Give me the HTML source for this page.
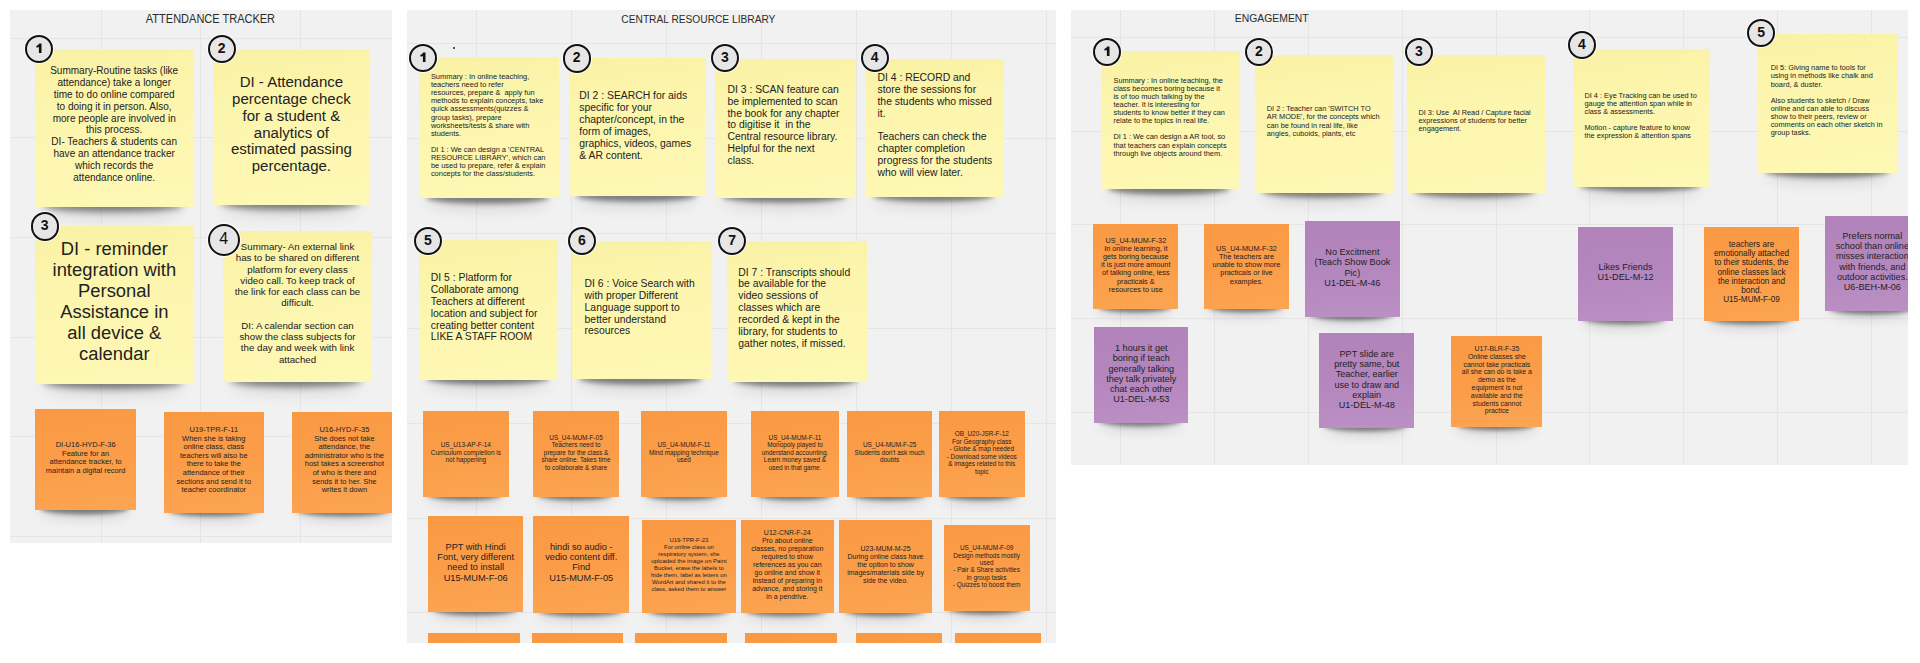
<!DOCTYPE html><html><head><meta charset="utf-8"><style>
html,body{margin:0;padding:0;width:1920px;height:663px;overflow:hidden;background:#fff;font-family:"Liberation Sans",sans-serif;}
.fr{position:absolute;background:#f1f1f1;overflow:hidden;z-index:0;}
.gl{position:absolute;background:#e5e5e5;}
.tt{position:absolute;color:#2b2b2b;white-space:nowrap;line-height:14px;text-align:center;}
.n{position:absolute;}
.sh{position:absolute;border-radius:50%;}
.tx{position:absolute;white-space:pre;color:#222;}
.ci{position:absolute;box-sizing:border-box;border:2px solid #111;border-radius:50%;background:#e6e6e6;box-shadow:0 0 0 1px rgba(255,255,255,.8);text-align:center;color:#111;font-weight:bold;}
</style></head><body>

<div class="fr" style="left:10.0px;top:10.0px;width:382.0px;height:533.0px">
<div class="gl" style="left:90.5px;top:0;width:1px;height:533.0px"></div>
<div class="gl" style="left:190.2px;top:0;width:1px;height:533.0px"></div>
<div class="gl" style="left:289.9px;top:0;width:1px;height:533.0px"></div>
<div class="gl" style="left:0;top:27.5px;width:382.0px;height:1px"></div>
<div class="gl" style="left:0;top:127.2px;width:382.0px;height:1px"></div>
<div class="gl" style="left:0;top:226.9px;width:382.0px;height:1px"></div>
<div class="gl" style="left:0;top:326.6px;width:382.0px;height:1px"></div>
<div class="gl" style="left:0;top:426.3px;width:382.0px;height:1px"></div>
<div class="gl" style="left:0;top:526.0px;width:382.0px;height:1px"></div>
<div class="tt" style="left:130.3px;width:140.9px;top:2.4px;font-size:12px;transform:scaleX(0.917)">ATTENDANCE TRACKER</div>
<div class="sh" style="left:32.7px;width:139.9px;top:183.4px;height:12px;box-shadow:0 7.0px 6.0px rgba(0,0,0,.44),0 11.0px 16.0px rgba(0,0,0,.15)"></div>
<div class="n" style="left:24.7px;top:38.7px;width:159.0px;height:158.7px;background:linear-gradient(172deg,#f9f1a4 0%,#fcf5ad 35%,#fef8b6 100%)">
<div class="tx" style="left:-20px;width:199.0px;text-align:center;top:16.8px;font-size:10.03px;line-height:11.8px">Summary-Routine tasks (like
attendance) take a longer
time to do online compared
to doing it in person. Also,
more people are involved in
this process.
DI- Teachers &amp; students can
have an attendance tracker
which records the
attendance online.</div>
</div>
<div class="sh" style="left:211.1px;width:137.5px;top:181.0px;height:12px;box-shadow:0 7.0px 6.0px rgba(0,0,0,.44),0 11.0px 16.0px rgba(0,0,0,.15)"></div>
<div class="n" style="left:203.3px;top:38.7px;width:156.2px;height:156.3px;background:linear-gradient(172deg,#f9f1a4 0%,#fcf5ad 35%,#fef8b6 100%)">
<div class="tx" style="left:-20px;width:196.2px;text-align:center;top:25.5px;font-size:15.03px;line-height:16.8px">DI - Attendance
percentage check
for a student &amp;
analytics of
estimated passing
percentage.</div>
</div>
<div class="sh" style="left:32.9px;width:139.7px;top:360.0px;height:12px;box-shadow:0 7.0px 6.0px rgba(0,0,0,.44),0 11.0px 16.0px rgba(0,0,0,.15)"></div>
<div class="n" style="left:25.0px;top:215.6px;width:158.7px;height:158.4px;background:linear-gradient(172deg,#f9f1a4 0%,#fcf5ad 35%,#fef8b6 100%)">
<div class="tx" style="left:-20px;width:198.7px;text-align:center;top:12.9px;font-size:18.39px;line-height:21px">DI - reminder
integration with
Personal
Assistance in
all device &amp;
calendar</div>
</div>
<div class="sh" style="left:220.1px;width:131.9px;top:357.6px;height:12px;box-shadow:0 7.0px 6.0px rgba(0,0,0,.44),0 11.0px 16.0px rgba(0,0,0,.15)"></div>
<div class="n" style="left:212.6px;top:221.0px;width:149.9px;height:150.6px;background:linear-gradient(172deg,#f9f1a4 0%,#fcf5ad 35%,#fef8b6 100%)">
<div class="tx" style="left:-20px;width:189.9px;text-align:center;top:10.1px;font-size:9.73px;line-height:11.25px">Summary- An external link
has to be shared on different
platform for every class
video call. To keep track of
the link for each class can be
difficult.

DI: A calendar section can
show the class subjects for
the day and week with link
attached</div>
</div>
<div class="sh" style="left:30.4px;width:88.4px;top:486.5px;height:12px;box-shadow:0 5.5px 4.7px rgba(0,0,0,.44),0 8.6px 12.5px rgba(0,0,0,.15)"></div>
<div class="n" style="left:25.4px;top:399.2px;width:100.5px;height:101.3px;background:linear-gradient(172deg,#fa9944 0%,#fb9d48 50%,#fca552 100%)">
<div class="tx" style="left:-20px;width:140.5px;text-align:center;top:31.8px;font-size:7.5px;line-height:8.55px">DI-U16-HYD-F-36
Feature for an
attendance tracker, to
maintain a digital record</div>
</div>
<div class="sh" style="left:158.6px;width:88.4px;top:488.6px;height:12px;box-shadow:0 5.5px 4.7px rgba(0,0,0,.44),0 8.6px 12.5px rgba(0,0,0,.15)"></div>
<div class="n" style="left:153.6px;top:401.8px;width:100.4px;height:100.8px;background:linear-gradient(172deg,#fa9944 0%,#fb9d48 50%,#fca552 100%)">
<div class="tx" style="left:-20px;width:140.4px;text-align:center;top:14.3px;font-size:7.5px;line-height:8.6px">U19-TPR-F-11
When she is taking
online class, class
teachers will also be
there to take the
attendance of their
sections and send it to
teacher coordinator</div>
</div>
<div class="sh" style="left:287.1px;width:92.6px;top:489.0px;height:12px;box-shadow:0 5.5px 4.7px rgba(0,0,0,.44),0 8.6px 12.5px rgba(0,0,0,.15)"></div>
<div class="n" style="left:281.8px;top:402.0px;width:105.2px;height:101.0px;background:linear-gradient(172deg,#fa9944 0%,#fb9d48 50%,#fca552 100%)">
<div class="tx" style="left:-20px;width:145.2px;text-align:center;top:14.1px;font-size:7.5px;line-height:8.6px">U16-HYD-F-35
She does not take
attendance, the
administrator who is the
host takes a screenshot
of who is there and
sends it to her. She
writes it down</div>
</div>
<div class="ci" style="left:14.7px;top:25.2px;width:28.3px;height:28.3px"><svg width="28" height="28" style="position:absolute;left:-2px;top:-2px" viewBox="0 0 28 28"><path transform="translate(11.40,8.40)" d="M2.6,0 H5.1 V9.5 H2.5 V3.5 C1.8,3.9 0.9,4.1 0,4.1 V2.3 C1.3,2.1 2.2,1.3 2.6,0 Z" fill="#111"/></svg></div>
<div class="ci" style="left:197.5px;top:24.6px;width:28.3px;height:28.3px;font-size:14px;line-height:22.5px;font-weight:bold">2</div>
<div class="ci" style="left:20.5px;top:202.3px;width:28.3px;height:28.3px;font-size:14px;line-height:22.5px;font-weight:bold">3</div>
<div class="ci" style="left:197.6px;top:213.6px;width:32.4px;height:32.4px;font-size:16px;line-height:26.6px;font-weight:normal">4</div>
</div>
<div class="fr" style="left:407.0px;top:10.0px;width:648.5px;height:633.0px">
<div class="gl" style="left:69.3px;top:0;width:1px;height:633.0px"></div>
<div class="gl" style="left:164.2px;top:0;width:1px;height:633.0px"></div>
<div class="gl" style="left:259.2px;top:0;width:1px;height:633.0px"></div>
<div class="gl" style="left:354.2px;top:0;width:1px;height:633.0px"></div>
<div class="gl" style="left:449.1px;top:0;width:1px;height:633.0px"></div>
<div class="gl" style="left:544.1px;top:0;width:1px;height:633.0px"></div>
<div class="gl" style="left:639.0px;top:0;width:1px;height:633.0px"></div>
<div class="gl" style="left:0;top:32.7px;width:648.5px;height:1px"></div>
<div class="gl" style="left:0;top:127.7px;width:648.5px;height:1px"></div>
<div class="gl" style="left:0;top:222.6px;width:648.5px;height:1px"></div>
<div class="gl" style="left:0;top:317.6px;width:648.5px;height:1px"></div>
<div class="gl" style="left:0;top:412.5px;width:648.5px;height:1px"></div>
<div class="gl" style="left:0;top:507.5px;width:648.5px;height:1px"></div>
<div class="gl" style="left:0;top:602.4px;width:648.5px;height:1px"></div>
<div class="tt" style="left:202.5px;width:176.8px;top:2.2px;font-size:11.7px;transform:scaleX(0.872)">CENTRAL RESOURCE LIBRARY</div>
<div class="sh" style="left:18.9px;width:123.0px;top:174.5px;height:12px;box-shadow:0 6.7px 5.8px rgba(0,0,0,.44),0 10.6px 15.4px rgba(0,0,0,.15)"></div>
<div class="n" style="left:11.9px;top:47.3px;width:139.8px;height:141.2px;background:linear-gradient(172deg,#f9f1a4 0%,#fcf5ad 35%,#fef8b6 100%)">
<div class="tx" style="left:12.0px;top:15.8px;font-size:7.44px;line-height:8.1px">Summary : In online teaching,
teachers need to refer
resources, prepare &amp;  apply fun
methods to explain concepts, take
quick assessments(quizzes &amp;
group tasks), prepare
worksheets/tests &amp; share with
students.

DI 1 : We can design a &#x27;CENTRAL
RESOURCE LIBRARY&#x27;, which can
be used to prepare, refer &amp; explain
concepts for the class/students.</div>
</div>
<div class="sh" style="left:168.6px;width:121.3px;top:172.5px;height:12px;box-shadow:0 6.7px 5.7px rgba(0,0,0,.44),0 10.5px 15.2px rgba(0,0,0,.15)"></div>
<div class="n" style="left:161.7px;top:48.3px;width:137.8px;height:138.2px;background:linear-gradient(172deg,#f9f1a4 0%,#fcf5ad 35%,#fef8b6 100%)">
<div class="tx" style="left:10.6px;top:31.7px;font-size:10.38px;line-height:11.95px">DI 2 : SEARCH for aids
specific for your
chapter/concept, in the
form of images,
graphics, videos, games
&amp; AR content.</div>
</div>
<div class="sh" style="left:314.9px;width:124.1px;top:174.0px;height:12px;box-shadow:0 6.8px 5.8px rgba(0,0,0,.44),0 10.7px 15.6px rgba(0,0,0,.15)"></div>
<div class="n" style="left:307.9px;top:49.0px;width:141.0px;height:139.0px;background:linear-gradient(172deg,#f9f1a4 0%,#fcf5ad 35%,#fef8b6 100%)">
<div class="tx" style="left:12.6px;top:24.6px;font-size:10.38px;line-height:11.95px">DI 3 : SCAN feature can
be implemented to scan
the book for any chapter
to digitise it  in the
Central resource library.
Helpful for the next
class.</div>
</div>
<div class="sh" style="left:465.8px;width:121.7px;top:172.7px;height:12px;box-shadow:0 6.7px 5.7px rgba(0,0,0,.44),0 10.5px 15.3px rgba(0,0,0,.15)"></div>
<div class="n" style="left:458.9px;top:49.0px;width:138.3px;height:137.7px;background:linear-gradient(172deg,#f9f1a4 0%,#fcf5ad 35%,#fef8b6 100%)">
<div class="tx" style="left:11.6px;top:12.7px;font-size:10.38px;line-height:11.95px">DI 4 : RECORD and
store the sessions for
the students who missed
it.

Teachers can check the
chapter completion
progress for the students
who will view later.</div>
</div>
<div class="sh" style="left:18.7px;width:122.9px;top:356.4px;height:12px;box-shadow:0 6.7px 5.8px rgba(0,0,0,.44),0 10.6px 15.4px rgba(0,0,0,.15)"></div>
<div class="n" style="left:11.7px;top:230.1px;width:139.7px;height:140.3px;background:linear-gradient(172deg,#f9f1a4 0%,#fcf5ad 35%,#fef8b6 100%)">
<div class="tx" style="left:12.1px;top:32.2px;font-size:10.38px;line-height:11.83px">DI 5 : Platform for
Collaborate among
Teachers at different
location and subject for
creating better content
LIKE A STAFF ROOM</div>
</div>
<div class="sh" style="left:172.3px;width:122.6px;top:355.5px;height:12px;box-shadow:0 6.7px 5.8px rgba(0,0,0,.44),0 10.6px 15.4px rgba(0,0,0,.15)"></div>
<div class="n" style="left:165.3px;top:231.3px;width:139.3px;height:138.2px;background:linear-gradient(172deg,#f9f1a4 0%,#fcf5ad 35%,#fef8b6 100%)">
<div class="tx" style="left:12.3px;top:36.8px;font-size:10.38px;line-height:11.83px">DI 6 : Voice Search with
with proper Different
Language support to
better understand
resources</div>
</div>
<div class="sh" style="left:327.0px;width:122.8px;top:357.7px;height:12px;box-shadow:0 6.7px 5.8px rgba(0,0,0,.44),0 10.6px 15.4px rgba(0,0,0,.15)"></div>
<div class="n" style="left:320.0px;top:231.3px;width:139.6px;height:140.4px;background:linear-gradient(172deg,#f9f1a4 0%,#fcf5ad 35%,#fef8b6 100%)">
<div class="tx" style="left:11.3px;top:25.3px;font-size:10.38px;line-height:11.86px">DI 7 : Transcripts should
be available for the
video sessions of
classes which are
recorded &amp; kept in the
library, for students to
gather notes, if missed.</div>
</div>
<div class="sh" style="left:20.2px;width:75.6px;top:472.9px;height:12px;box-shadow:0 5.5px 4.7px rgba(0,0,0,.44),0 8.6px 12.5px rgba(0,0,0,.15)"></div>
<div class="n" style="left:15.9px;top:400.6px;width:85.9px;height:86.3px;background:linear-gradient(172deg,#fa9944 0%,#fb9d48 50%,#fca552 100%)">
<div class="tx" style="left:-20px;width:125.9px;text-align:center;top:30.7px;font-size:6.42px;line-height:7.45px">US_U13-AP-F-14
Curriculum completion is
not happening</div>
</div>
<div class="sh" style="left:130.2px;width:75.9px;top:472.9px;height:12px;box-shadow:0 5.5px 4.7px rgba(0,0,0,.44),0 8.6px 12.5px rgba(0,0,0,.15)"></div>
<div class="n" style="left:125.9px;top:400.6px;width:86.3px;height:86.3px;background:linear-gradient(172deg,#fa9944 0%,#fb9d48 50%,#fca552 100%)">
<div class="tx" style="left:-20px;width:126.3px;text-align:center;top:23.4px;font-size:6.42px;line-height:7.45px">US_U4-MUM-F-05
Teachers need to
prepare for the class &amp;
share online. Takes time
to collaborate &amp; share</div>
</div>
<div class="sh" style="left:238.1px;width:75.9px;top:473.0px;height:12px;box-shadow:0 5.5px 4.7px rgba(0,0,0,.44),0 8.6px 12.5px rgba(0,0,0,.15)"></div>
<div class="n" style="left:233.8px;top:400.6px;width:86.2px;height:86.4px;background:linear-gradient(172deg,#fa9944 0%,#fb9d48 50%,#fca552 100%)">
<div class="tx" style="left:-20px;width:126.2px;text-align:center;top:30.7px;font-size:6.42px;line-height:7.45px">US_U4-MUM-F-11
Mind mapping technique
used</div>
</div>
<div class="sh" style="left:348.6px;width:77.1px;top:472.9px;height:12px;box-shadow:0 5.5px 4.7px rgba(0,0,0,.44),0 8.6px 12.5px rgba(0,0,0,.15)"></div>
<div class="n" style="left:344.2px;top:400.6px;width:87.6px;height:86.3px;background:linear-gradient(172deg,#fa9944 0%,#fb9d48 50%,#fca552 100%)">
<div class="tx" style="left:-20px;width:127.6px;text-align:center;top:23.4px;font-size:6.42px;line-height:7.45px">US_U4-MUM-F-11
Monopoly played to
understand accounting.
Learn money saved &amp;
used in that game.</div>
</div>
<div class="sh" style="left:444.0px;width:75.5px;top:472.9px;height:12px;box-shadow:0 5.5px 4.7px rgba(0,0,0,.44),0 8.6px 12.5px rgba(0,0,0,.15)"></div>
<div class="n" style="left:439.7px;top:400.6px;width:85.8px;height:86.3px;background:linear-gradient(172deg,#fa9944 0%,#fb9d48 50%,#fca552 100%)">
<div class="tx" style="left:-20px;width:125.8px;text-align:center;top:30.7px;font-size:6.42px;line-height:7.45px">US_U4-MUM-F-25
Students don&#x27;t ask much
doubts</div>
</div>
<div class="sh" style="left:536.1px;width:75.6px;top:473.0px;height:12px;box-shadow:0 5.5px 4.7px rgba(0,0,0,.44),0 8.6px 12.5px rgba(0,0,0,.15)"></div>
<div class="n" style="left:531.8px;top:400.6px;width:85.9px;height:86.4px;background:linear-gradient(172deg,#fa9944 0%,#fb9d48 50%,#fca552 100%)">
<div class="tx" style="left:-20px;width:125.9px;text-align:center;top:19.9px;font-size:6.42px;line-height:7.45px">OB_U20-JSR-F-12
For Geography class
- Globe &amp; map needed
- Download some videos
&amp; images related to this
topic</div>
</div>
<div class="sh" style="left:25.7px;width:84.0px;top:588.2px;height:12px;box-shadow:0 5.5px 4.7px rgba(0,0,0,.44),0 8.6px 12.5px rgba(0,0,0,.15)"></div>
<div class="n" style="left:20.9px;top:505.7px;width:95.5px;height:96.5px;background:linear-gradient(172deg,#fa9944 0%,#fb9d48 50%,#fca552 100%)">
<div class="tx" style="left:-20px;width:135.5px;text-align:center;top:26.6px;font-size:9.22px;line-height:10.1px">PPT with Hindi
Font, very different
need to install
U15-MUM-F-06</div>
</div>
<div class="sh" style="left:130.8px;width:84.8px;top:588.7px;height:12px;box-shadow:0 5.5px 4.7px rgba(0,0,0,.44),0 8.6px 12.5px rgba(0,0,0,.15)"></div>
<div class="n" style="left:126.0px;top:505.7px;width:96.4px;height:97.0px;background:linear-gradient(172deg,#fa9944 0%,#fb9d48 50%,#fca552 100%)">
<div class="tx" style="left:-20px;width:136.4px;text-align:center;top:26.6px;font-size:9.22px;line-height:10.1px">hindi so audio -
vedio content diff.
Find
U15-MUM-F-05</div>
</div>
<div class="sh" style="left:239.5px;width:82.9px;top:588.7px;height:12px;box-shadow:0 5.5px 4.7px rgba(0,0,0,.44),0 8.6px 12.5px rgba(0,0,0,.15)"></div>
<div class="n" style="left:234.8px;top:510.0px;width:94.2px;height:92.7px;background:linear-gradient(172deg,#fa9944 0%,#fb9d48 50%,#fca552 100%)">
<div class="tx" style="left:-20px;width:134.2px;text-align:center;top:17.2px;font-size:5.93px;line-height:6.94px">U19-TPR-F-23
For online class on
respiratory system, she
uploaded the image on Paint
Bucket, erase the labels to
hide them, label as letters on
WordArt and shared it to the
class, asked them to answer</div>
</div>
<div class="sh" style="left:338.4px;width:82.0px;top:588.7px;height:12px;box-shadow:0 5.5px 4.7px rgba(0,0,0,.44),0 8.6px 12.5px rgba(0,0,0,.15)"></div>
<div class="n" style="left:333.7px;top:510.0px;width:93.2px;height:92.7px;background:linear-gradient(172deg,#fa9944 0%,#fb9d48 50%,#fca552 100%)">
<div class="tx" style="left:-20px;width:133.2px;text-align:center;top:9.1px;font-size:6.97px;line-height:7.96px">U12-CNR-F-24
Pro about online
classes, no preparation
required to show
references as you can
go online and show it
instead of preparing in
advance, and storing it
in a pendrive.</div>
</div>
<div class="sh" style="left:436.7px;width:81.8px;top:588.7px;height:12px;box-shadow:0 5.5px 4.7px rgba(0,0,0,.44),0 8.6px 12.5px rgba(0,0,0,.15)"></div>
<div class="n" style="left:432.1px;top:510.0px;width:92.9px;height:92.7px;background:linear-gradient(172deg,#fa9944 0%,#fb9d48 50%,#fca552 100%)">
<div class="tx" style="left:-20px;width:132.9px;text-align:center;top:25.4px;font-size:6.97px;line-height:7.9px">U23-MUM-M-25
During online class have
the option to show
images/materials side by
side the video.</div>
</div>
<div class="sh" style="left:540.8px;width:75.9px;top:587.0px;height:12px;box-shadow:0 5.5px 4.7px rgba(0,0,0,.44),0 8.6px 12.5px rgba(0,0,0,.15)"></div>
<div class="n" style="left:536.5px;top:514.5px;width:86.2px;height:86.5px;background:linear-gradient(172deg,#fa9944 0%,#fb9d48 50%,#fca552 100%)">
<div class="tx" style="left:-20px;width:126.2px;text-align:center;top:19.7px;font-size:6.42px;line-height:7.4px">US_U4-MUM-F-09
Design methods mostly
used
- Pair &amp; Share activities
in group tasks
- Quizzes to boost them</div>
</div>
<div class="n" style="left:20.9px;top:623.0px;width:91.9px;height:92.0px;background:linear-gradient(172deg,#fa9944 0%,#fb9d48 50%,#fca552 100%)">
</div>
<div class="n" style="left:125.2px;top:623.0px;width:91.3px;height:92.0px;background:linear-gradient(172deg,#fa9944 0%,#fb9d48 50%,#fca552 100%)">
</div>
<div class="n" style="left:228.2px;top:623.0px;width:91.7px;height:92.0px;background:linear-gradient(172deg,#fa9944 0%,#fb9d48 50%,#fca552 100%)">
</div>
<div class="n" style="left:338.0px;top:622.5px;width:91.7px;height:92.0px;background:linear-gradient(172deg,#fa9944 0%,#fb9d48 50%,#fca552 100%)">
</div>
<div class="n" style="left:448.8px;top:622.5px;width:85.8px;height:92.0px;background:linear-gradient(172deg,#fa9944 0%,#fb9d48 50%,#fca552 100%)">
</div>
<div class="n" style="left:548.2px;top:623.0px;width:86.0px;height:92.0px;background:linear-gradient(172deg,#fa9944 0%,#fb9d48 50%,#fca552 100%)">
</div>
<div class="ci" style="left:1.5px;top:33.9px;width:28.3px;height:28.3px"><svg width="28" height="28" style="position:absolute;left:-2px;top:-2px" viewBox="0 0 28 28"><path transform="translate(11.40,8.40)" d="M2.6,0 H5.1 V9.5 H2.5 V3.5 C1.8,3.9 0.9,4.1 0,4.1 V2.3 C1.3,2.1 2.2,1.3 2.6,0 Z" fill="#111"/></svg></div>
<div class="ci" style="left:155.5px;top:34.4px;width:28.3px;height:28.3px;font-size:14px;line-height:22.5px;font-weight:bold">2</div>
<div class="ci" style="left:303.8px;top:33.9px;width:28.3px;height:28.3px;font-size:14px;line-height:22.5px;font-weight:bold">3</div>
<div class="ci" style="left:453.6px;top:33.6px;width:28.3px;height:28.3px;font-size:14px;line-height:22.5px;font-weight:bold">4</div>
<div class="ci" style="left:6.7px;top:216.8px;width:28.3px;height:28.3px;font-size:14px;line-height:22.5px;font-weight:bold">5</div>
<div class="ci" style="left:160.7px;top:216.8px;width:28.3px;height:28.3px;font-size:14px;line-height:22.5px;font-weight:bold">6</div>
<div class="ci" style="left:310.9px;top:216.8px;width:28.3px;height:28.3px;font-size:14px;line-height:22.5px;font-weight:bold">7</div>
<div style="position:absolute;left:45.8px;top:37.0px;width:2px;height:2px;border-radius:1px;background:#222"></div>
</div>
<div class="fr" style="left:1071.4px;top:10.0px;width:836.9px;height:454.6px">
<div class="gl" style="left:49.1px;top:0;width:1px;height:454.6px"></div>
<div class="gl" style="left:142.9px;top:0;width:1px;height:454.6px"></div>
<div class="gl" style="left:236.7px;top:0;width:1px;height:454.6px"></div>
<div class="gl" style="left:330.4px;top:0;width:1px;height:454.6px"></div>
<div class="gl" style="left:424.2px;top:0;width:1px;height:454.6px"></div>
<div class="gl" style="left:518.0px;top:0;width:1px;height:454.6px"></div>
<div class="gl" style="left:611.8px;top:0;width:1px;height:454.6px"></div>
<div class="gl" style="left:705.6px;top:0;width:1px;height:454.6px"></div>
<div class="gl" style="left:799.3px;top:0;width:1px;height:454.6px"></div>
<div class="gl" style="left:0;top:26.8px;width:836.9px;height:1px"></div>
<div class="gl" style="left:0;top:120.6px;width:836.9px;height:1px"></div>
<div class="gl" style="left:0;top:214.4px;width:836.9px;height:1px"></div>
<div class="gl" style="left:0;top:308.1px;width:836.9px;height:1px"></div>
<div class="gl" style="left:0;top:401.9px;width:836.9px;height:1px"></div>
<div class="tt" style="left:161.3px;width:77.5px;top:1.0px;font-size:10.9px;transform:scaleX(0.953)">ENGAGEMENT</div>
<div class="sh" style="left:36.9px;width:121.9px;top:165.5px;height:12px;box-shadow:0 6.7px 5.7px rgba(0,0,0,.44),0 10.5px 15.3px rgba(0,0,0,.15)"></div>
<div class="n" style="left:30.0px;top:40.7px;width:138.5px;height:138.8px;background:linear-gradient(172deg,#f9f1a4 0%,#fcf5ad 35%,#fef8b6 100%)">
<div class="tx" style="left:12.1px;top:26.1px;font-size:7.35px;line-height:8.1px">Summary : In online teaching, the
class becomes boring because it
is of too much talking by the
teacher. It is interesting for
students to know better if they can
relate to the topics in real life.

DI 1 : We can design a AR tool, so
that teachers can explain concepts
through live objects around them.</div>
</div>
<div class="sh" style="left:190.6px;width:121.4px;top:168.6px;height:12px;box-shadow:0 6.7px 5.7px rgba(0,0,0,.44),0 10.5px 15.2px rgba(0,0,0,.15)"></div>
<div class="n" style="left:183.7px;top:44.8px;width:137.9px;height:137.8px;background:linear-gradient(172deg,#f9f1a4 0%,#fcf5ad 35%,#fef8b6 100%)">
<div class="tx" style="left:11.7px;top:50.6px;font-size:7.35px;line-height:8.1px">DI 2 : Teacher can &#x27;SWITCH TO
AR MODE&#x27;, for the concepts which
can be found in real life, like
angles, cuboids, plants, etc</div>
</div>
<div class="sh" style="left:342.3px;width:121.8px;top:168.6px;height:12px;box-shadow:0 6.7px 5.7px rgba(0,0,0,.44),0 10.5px 15.3px rgba(0,0,0,.15)"></div>
<div class="n" style="left:335.4px;top:44.8px;width:138.4px;height:137.8px;background:linear-gradient(172deg,#f9f1a4 0%,#fcf5ad 35%,#fef8b6 100%)">
<div class="tx" style="left:11.7px;top:54.3px;font-size:7.35px;line-height:8.1px">DI 3: Use  AI Read / Capture facial
expressions of students for better
engagement.</div>
</div>
<div class="sh" style="left:508.5px;width:120.5px;top:162.9px;height:12px;box-shadow:0 6.6px 5.7px rgba(0,0,0,.44),0 10.4px 15.1px rgba(0,0,0,.15)"></div>
<div class="n" style="left:501.7px;top:39.1px;width:136.9px;height:137.8px;background:linear-gradient(172deg,#f9f1a4 0%,#fcf5ad 35%,#fef8b6 100%)">
<div class="tx" style="left:11.4px;top:42.6px;font-size:7.35px;line-height:8.1px">DI 4 : Eye Tracking can be used to
gauge the attention span while in
class &amp; assessments.

Motion - capture feature to know
the expression &amp; attention spans</div>
</div>
<div class="sh" style="left:694.0px;width:123.2px;top:148.6px;height:12px;box-shadow:0 6.8px 5.8px rgba(0,0,0,.44),0 10.6px 15.4px rgba(0,0,0,.15)"></div>
<div class="n" style="left:687.0px;top:24.2px;width:140.0px;height:138.4px;background:linear-gradient(172deg,#f9f1a4 0%,#fcf5ad 35%,#fef8b6 100%)">
<div class="tx" style="left:12.3px;top:30.2px;font-size:7.35px;line-height:8.1px">DI 5: Giving name to tools for
using in methods like chalk and
board, &amp; duster.

Also students to sketch / Draw
online and can able to discuss
show to their peers, review or
comments on each other sketch in
group tasks.</div>
</div>
<div class="sh" style="left:26.3px;width:74.4px;top:285.1px;height:12px;box-shadow:0 5.5px 4.7px rgba(0,0,0,.44),0 8.6px 12.5px rgba(0,0,0,.15)"></div>
<div class="n" style="left:22.1px;top:213.6px;width:84.6px;height:85.5px;background:linear-gradient(172deg,#fa9944 0%,#fb9d48 50%,#fca552 100%)">
<div class="tx" style="left:-20px;width:124.6px;text-align:center;top:13.3px;font-size:7.3px;line-height:8.14px">US_U4-MUM-F-32
In online learning, it
gets boring because
it is just more amount
of talking online, less
practicals &amp;
resources to use</div>
</div>
<div class="sh" style="left:137.0px;width:74.4px;top:285.1px;height:12px;box-shadow:0 5.5px 4.7px rgba(0,0,0,.44),0 8.6px 12.5px rgba(0,0,0,.15)"></div>
<div class="n" style="left:132.8px;top:213.6px;width:84.6px;height:85.5px;background:linear-gradient(172deg,#fa9944 0%,#fb9d48 50%,#fca552 100%)">
<div class="tx" style="left:-20px;width:124.6px;text-align:center;top:21.4px;font-size:7.3px;line-height:8.14px">US_U4-MUM-F-32
The teachers are
unable to show more
practicals or live
examples.</div>
</div>
<div class="sh" style="left:238.4px;width:83.2px;top:292.8px;height:12px;box-shadow:0 5.5px 4.7px rgba(0,0,0,.44),0 8.6px 12.5px rgba(0,0,0,.15)"></div>
<div class="n" style="left:233.7px;top:211.2px;width:94.6px;height:95.6px;background:linear-gradient(175deg,#b183ba 0%,#b386bd 45%,#bb90c4 100%)">
<div class="tx" style="left:-20px;width:134.6px;text-align:center;top:26.1px;font-size:9.1px;line-height:10.2px">No Excitment
(Teach Show Book
Pic)
U1-DEL-M-46</div>
</div>
<div class="sh" style="left:511.5px;width:83.2px;top:297.3px;height:12px;box-shadow:0 5.5px 4.7px rgba(0,0,0,.44),0 8.6px 12.5px rgba(0,0,0,.15)"></div>
<div class="n" style="left:506.8px;top:216.5px;width:94.6px;height:94.8px;background:linear-gradient(175deg,#b183ba 0%,#b386bd 45%,#bb90c4 100%)">
<div class="tx" style="left:-20px;width:134.6px;text-align:center;top:35.5px;font-size:9.1px;line-height:10.2px">Likes Friends
U1-DEL-M-12</div>
</div>
<div class="sh" style="left:637.1px;width:84.2px;top:297.3px;height:12px;box-shadow:0 5.5px 4.7px rgba(0,0,0,.44),0 8.6px 12.5px rgba(0,0,0,.15)"></div>
<div class="n" style="left:632.3px;top:216.9px;width:95.7px;height:94.4px;background:linear-gradient(172deg,#fa9944 0%,#fb9d48 50%,#fca552 100%)">
<div class="tx" style="left:-20px;width:135.7px;text-align:center;top:13.2px;font-size:8.18px;line-height:9.15px">teachers are
emotionally attached
to their students, the
online classes lack
the interaction and
bond.
U15-MUM-F-09</div>
</div>
<div class="sh" style="left:758.1px;width:83.9px;top:286.7px;height:12px;box-shadow:0 5.5px 4.7px rgba(0,0,0,.44),0 8.6px 12.5px rgba(0,0,0,.15)"></div>
<div class="n" style="left:753.3px;top:205.5px;width:95.3px;height:95.2px;background:linear-gradient(175deg,#b183ba 0%,#b386bd 45%,#bb90c4 100%)">
<div class="tx" style="left:-20px;width:135.3px;text-align:center;top:15.5px;font-size:9.1px;line-height:10.2px">Prefers normal
school than online
misses interaction
with friends, and
outdoor activities.
U6-BEH-M-06</div>
</div>
<div class="sh" style="left:27.6px;width:82.7px;top:399.0px;height:12px;box-shadow:0 5.5px 4.7px rgba(0,0,0,.44),0 8.6px 12.5px rgba(0,0,0,.15)"></div>
<div class="n" style="left:22.9px;top:317.4px;width:94.0px;height:95.6px;background:linear-gradient(175deg,#b183ba 0%,#b386bd 45%,#bb90c4 100%)">
<div class="tx" style="left:-20px;width:134.0px;text-align:center;top:15.9px;font-size:9.1px;line-height:10.2px">1 hours it get
boring if teach
generally talking
they talk privately
chat each other
U1-DEL-M-53</div>
</div>
<div class="sh" style="left:252.8px;width:83.2px;top:404.0px;height:12px;box-shadow:0 5.5px 4.7px rgba(0,0,0,.44),0 8.6px 12.5px rgba(0,0,0,.15)"></div>
<div class="n" style="left:248.1px;top:323.1px;width:94.5px;height:94.9px;background:linear-gradient(175deg,#b183ba 0%,#b386bd 45%,#bb90c4 100%)">
<div class="tx" style="left:-20px;width:134.5px;text-align:center;top:15.9px;font-size:9.1px;line-height:10.2px">PPT slide are
pretty same, but
Teacher, earlier
use to draw and
explain
U1-DEL-M-48</div>
</div>
<div class="sh" style="left:384.6px;width:79.9px;top:402.8px;height:12px;box-shadow:0 5.5px 4.7px rgba(0,0,0,.44),0 8.6px 12.5px rgba(0,0,0,.15)"></div>
<div class="n" style="left:380.1px;top:325.6px;width:90.8px;height:91.2px;background:linear-gradient(172deg,#fa9944 0%,#fb9d48 50%,#fca552 100%)">
<div class="tx" style="left:-20px;width:130.8px;text-align:center;top:9.4px;font-size:6.9px;line-height:7.8px">U17-BLR-F-35
Online classes she
cannot take practicals
all she can do is take a
demo as the
equipment is not
available and the
students cannot
practice</div>
</div>
<div class="ci" style="left:21.5px;top:27.9px;width:28.3px;height:28.3px"><svg width="28" height="28" style="position:absolute;left:-2px;top:-2px" viewBox="0 0 28 28"><path transform="translate(11.40,8.40)" d="M2.6,0 H5.1 V9.5 H2.5 V3.5 C1.8,3.9 0.9,4.1 0,4.1 V2.3 C1.3,2.1 2.2,1.3 2.6,0 Z" fill="#111"/></svg></div>
<div class="ci" style="left:173.4px;top:27.5px;width:28.3px;height:28.3px;font-size:14px;line-height:22.5px;font-weight:bold">2</div>
<div class="ci" style="left:333.4px;top:27.5px;width:28.3px;height:28.3px;font-size:14px;line-height:22.5px;font-weight:bold">3</div>
<div class="ci" style="left:496.4px;top:20.9px;width:28.3px;height:28.3px;font-size:14px;line-height:22.5px;font-weight:bold">4</div>
<div class="ci" style="left:675.6px;top:8.5px;width:28.3px;height:28.3px;font-size:14px;line-height:22.5px;font-weight:bold">5</div>
</div>
</body></html>
